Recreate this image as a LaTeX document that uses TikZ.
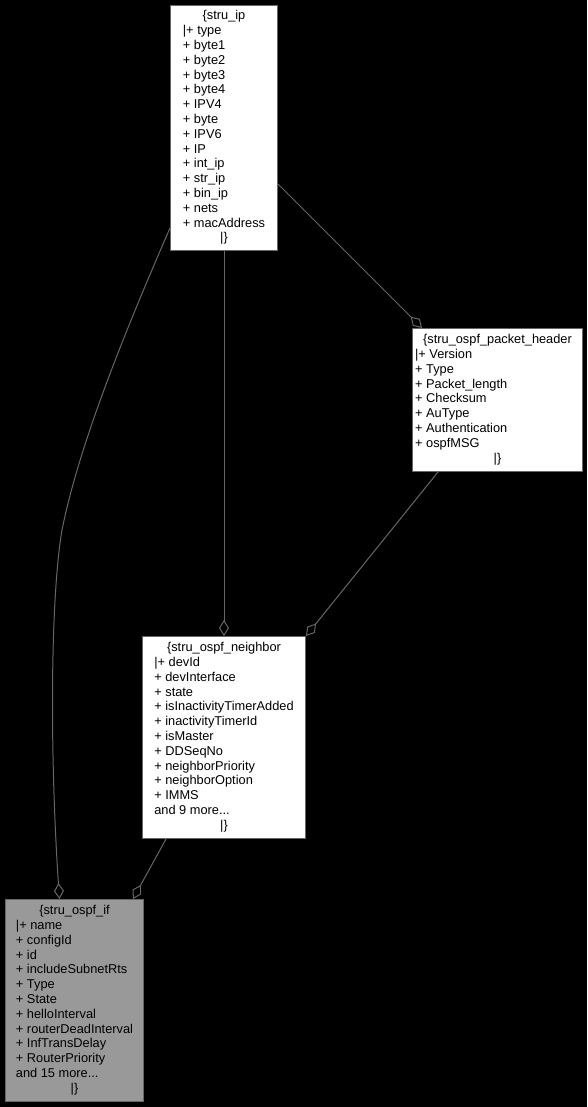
\documentclass[tikz,border=0pt]{standalone}
\usepackage{fontspec}
\setmainfont{Liberation Sans}
\usepackage{xcolor}
\usetikzlibrary{arrows.meta,calc}

\begin{document}
\begin{tikzpicture}[x=0.75pt,y=0.75pt,yscale=-1,xscale=1,
  classbox/.style={draw={rgb, 255:red, 102; green, 102; blue, 102 }, fill=white, line width=0.75pt, anchor=north west, inner sep=0pt, font=\fontsize{9.6pt}{11.1pt}\selectfont},
  mainbox/.style={classbox, fill={rgb, 255:red, 153; green, 153; blue, 153 }},
  aggr/.style={color={rgb, 255:red, 102; green, 102; blue, 102 }, line width=0.75pt, -{Diamond[open,length=12pt,width=7.5pt]}}]
%set diagram size 587 x 1107
\fill [black] (0,0) rectangle (587,1107);

%Shape: Rectangle [stru_ip]
\node [classbox, minimum width=80.25pt, minimum height=183.75pt] (ip) at (170,5) {\begin{tabular}{@{}l@{}}
\multicolumn{1}{c}{\{stru\_ip}\\
|+ type\\
+ byte1\\
+ byte2\\
+ byte3\\
+ byte4\\
+ IPV4\\
+ byte\\
+ IPV6\\
+ IP\\
+ int\_ip\\
+ str\_ip\\
+ bin\_ip\\
+ nets\\
+ macAddress\\
\multicolumn{1}{c}{|\}}
\end{tabular}};
%Shape: Rectangle [stru_ospf_packet_header]
\node [classbox, minimum width=127.5pt, minimum height=107.25pt] (hdr) at (412,328) {\begin{tabular}{@{}l@{}}
\multicolumn{1}{c}{\{stru\_ospf\_packet\_header}\\
|+ Version\\
+ Type\\
+ Packet\_length\\
+ Checksum\\
+ AuType\\
+ Authentication\\
+ ospfMSG\\
\multicolumn{1}{c}{|\}}
\end{tabular}};
%Shape: Rectangle [stru_ospf_neighbor]
\node [classbox, minimum width=122.25pt, minimum height=151.5pt] (nbr) at (142,636) {\begin{tabular}{@{}l@{}}
\multicolumn{1}{c}{\{stru\_ospf\_neighbor}\\
|+ devId\\
+ devInterface\\
+ state\\
+ isInactivityTimerAdded\\
+ inactivityTimerId\\
+ isMaster\\
+ DDSeqNo\\
+ neighborPriority\\
+ neighborOption\\
+ IMMS\\
and 9 more...\\
\multicolumn{1}{c}{|\}}
\end{tabular}};
%Shape: Rectangle [stru_ospf_if]
\node [mainbox, minimum width=103.5pt, minimum height=151.5pt] (oif) at (5,899) {\begin{tabular}{@{}l@{}}
\multicolumn{1}{c}{\{stru\_ospf\_if}\\
|+ name\\
+ configId\\
+ id\\
+ includeSubnetRts\\
+ Type\\
+ State\\
+ helloInterval\\
+ routerDeadInterval\\
+ InfTransDelay\\
+ RouterPriority\\
and 15 more...\\
\multicolumn{1}{c}{|\}}
\end{tabular}};

%Curve Lines
\draw [aggr] ($(ip.south west)+(0,-23)$) .. controls (130,320) and (80,440) .. (62,530) .. controls (50,600) and (50,760) .. ($(oif.north)+(-15,0)$);
%Straight Lines
\draw [aggr] ($(ip.south east)+(0,-67)$) -- ($(hdr.north west)+(10,0)$);
%Straight Lines
\draw [aggr] (ip.south) -- (nbr.north);
%Straight Lines
\draw [aggr] ($(hdr.south west)+(26,0)$) -- (nbr.north east);
%Straight Lines
\draw [aggr] ($(nbr.south west)+(24,0)$) -- ($(oif.north east)+(-11,0)$);

\end{tikzpicture}
\end{document}
